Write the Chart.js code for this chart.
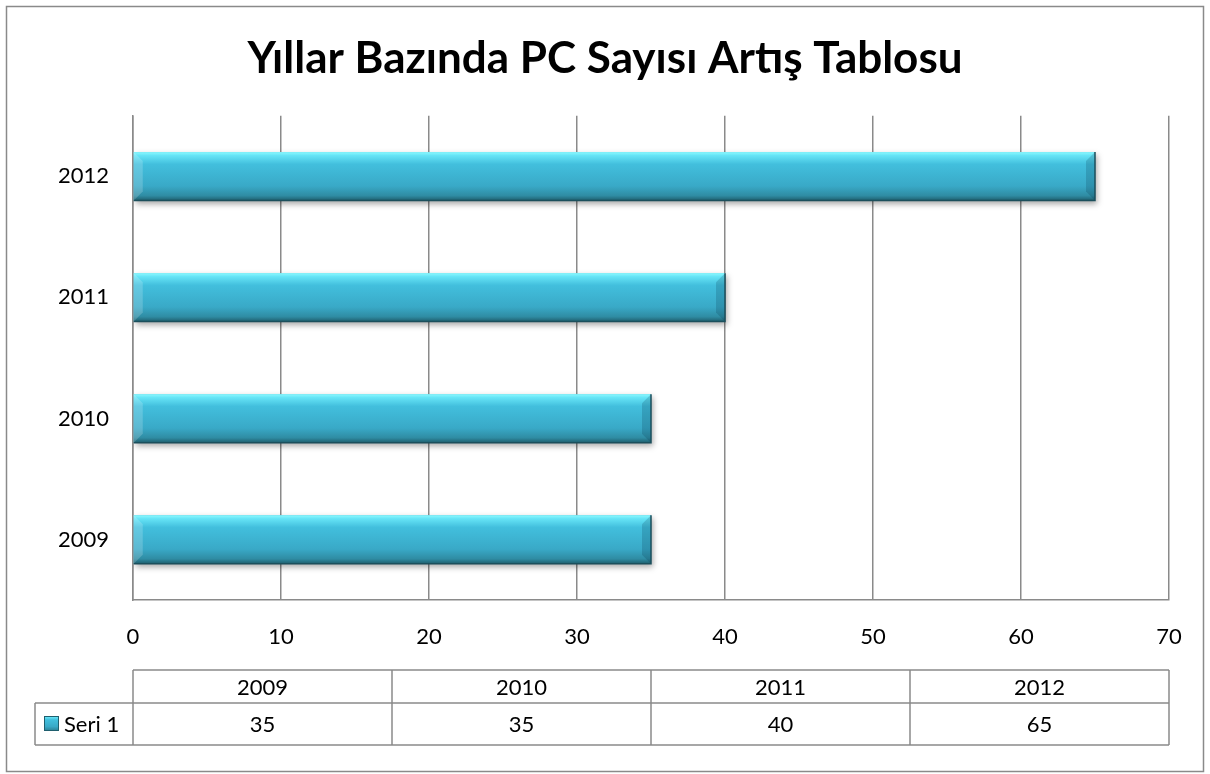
<!DOCTYPE html>
<html>
<head>
<meta charset="utf-8">
<script src="https://cdn.jsdelivr.net/npm/chart.js@4.4.1/dist/chart.umd.min.js"></script>
<style>
  html, body { margin: 0; padding: 0; background: #fff; }
  #wrap { width: 1210px; height: 774px; position: relative; }
</style>
</head>
<body>
<div id="wrap"><canvas id="myChart"></canvas></div>
<script>
// data
var years = ["2009", "2010", "2011", "2012"];
var seri1 = [35, 35, 40, 65];
var seriesName = "Seri 1";
var xTicks = [0, 10, 20, 30, 40, 50, 60, 70];
var chartTitle = "Yıllar Bazında PC Sayısı Artış Tablosu";

var FONT = "Lato, 'Open Sans', sans-serif";
var LINE = "#8a8a8a";

function barGradient(ctx, top, bottom) {
  var g = ctx.createLinearGradient(0, top, 0, bottom);
  g.addColorStop(0, "#8cf9ff");
  g.addColorStop(0.07, "#66e4f6");
  g.addColorStop(0.25, "#42bfdd");
  g.addColorStop(0.7, "#39a9c7");
  g.addColorStop(0.9, "#2f8ca3");
  g.addColorStop(1, "#1f5f6e");
  return g;
}

// outer frame + data table under the axis
var extras = {
  id: "extras",
  beforeDraw: function (chart) {
    var c = chart.ctx;
    c.save();
    c.strokeStyle = LINE;
    c.lineWidth = 1.5;
    c.strokeRect(6.5, 6.5, 1197, 765);
    c.restore();
  },
  afterDraw: function (chart) {
    var c = chart.ctx;
    var x = chart.scales.x;
    var left = x.left, right = x.right;
    var colW = (right - left) / years.length;
    var top = 670, mid = 703, bot = 745, legL = 35;
    c.save();
    c.strokeStyle = LINE;
    c.lineWidth = 1.5;
    c.beginPath();
    c.moveTo(left, top); c.lineTo(right, top);
    c.moveTo(legL, mid); c.lineTo(right, mid);
    c.moveTo(legL, bot); c.lineTo(right, bot);
    c.moveTo(legL, mid); c.lineTo(legL, bot);
    for (var i = 0; i <= years.length; i++) {
      c.moveTo(left + i * colW, top);
      c.lineTo(left + i * colW, bot);
    }
    c.stroke();

    c.fillStyle = "#000";
    c.font = "22px " + FONT;
    c.textAlign = "center";
    c.textBaseline = "middle";
    for (var j = 0; j < years.length; j++) {
      var cx = left + (j + 0.5) * colW;
      c.fillText(years[j], cx, (top + mid) / 2 + 1);
      c.fillText(String(seri1[j]), cx, (mid + bot) / 2 + 1);
    }
    // legend key
    c.fillStyle = barGradient(c, 716, 731);
    c.fillRect(44, 716, 15, 15);
    c.strokeStyle = "#1f5f6e";
    c.lineWidth = 1;
    c.strokeRect(44.5, 716.5, 14, 14);
    c.fillStyle = "#000";
    c.textAlign = "left";
    c.fillText(seriesName, 64, (mid + bot) / 2 + 1);
    c.restore();
  }
};

// bevel look on top of the bars the library drew
var bevel = {
  id: "bevel",
  afterDatasetsDraw: function (chart) {
    var c = chart.ctx;
    var meta = chart.getDatasetMeta(0);
    meta.data.forEach(function (el) {
      var p = el.getProps(["x", "y", "base", "height"], true);
      var t = p.y - p.height / 2, b = p.y + p.height / 2;
      var l = p.base, r = p.x, e = 9;
      c.save();
      c.fillStyle = barGradient(c, t, b);
      c.fillRect(l, t, r - l, b - t);
      // left bevel lighter
      c.fillStyle = "rgba(255,255,255,0.18)";
      c.beginPath();
      c.moveTo(l, t); c.lineTo(l + e, t + e); c.lineTo(l + e, b - e); c.lineTo(l, b);
      c.closePath(); c.fill();
      // right bevel darker
      c.fillStyle = "rgba(0,40,60,0.18)";
      c.beginPath();
      c.moveTo(r, t); c.lineTo(r - e, t + e); c.lineTo(r - e, b - e); c.lineTo(r, b);
      c.closePath(); c.fill();
      c.strokeStyle = "#1b4f5c";
      c.lineWidth = 1.5;
      c.beginPath();
      c.moveTo(r, t); c.lineTo(r, b); c.lineTo(l, b);
      c.stroke();
      c.restore();
    });
  },
  beforeDatasetsDraw: function (chart) {
    var c = chart.ctx;
    c.save();
    c.shadowColor = "rgba(0,0,0,0.35)";
    c.shadowBlur = 6;
    c.shadowOffsetX = 2;
    c.shadowOffsetY = 3;
  },
  afterDatasetDraw: function (chart) {
    chart.ctx.restore();
  }
};

new Chart("myChart", {
  type: "bar",
  data: {
    labels: years,
    datasets: [{
      label: seriesName,
      data: seri1,
      backgroundColor: "#3ab2d0",
      borderWidth: 0,
      categoryPercentage: 1,
      barPercentage: 0.4
    }]
  },
  options: {
    indexAxis: "y",
    responsive: true,
    maintainAspectRatio: false,
    animation: false,
    layout: { padding: 0 },
    plugins: {
      legend: { display: false },
      tooltip: { enabled: false },
      title: {
        display: true,
        text: chartTitle,
        color: "#000",
        font: { family: FONT, size: 44, weight: "bold" },
        padding: { top: 32, bottom: 31 }
      }
    },
    scales: {
      x: {
        min: 0,
        max: 70,
        afterBuildTicks: function (s) { s.ticks = xTicks.map(function (v) { return { value: v }; }); },
        grid: { color: LINE, lineWidth: 1.5, drawTicks: false },
        border: { color: LINE, width: 1.5 },
        ticks: { color: "#000", font: { family: FONT, size: 22 }, padding: 24, maxRotation: 0 },
        afterFit: function (s) { s.height = 174; }
      },
      y: {
        reverse: true,
        grid: { display: false, drawTicks: false },
        border: { color: LINE, width: 1.5 },
        ticks: { color: "#000", font: { family: FONT, size: 22 }, padding: 24 },
        afterFit: function (s) { s.width = 133; }
      },
      // empty right-hand axis only to hold the right margin
      yRight: {
        position: "right",
        grid: { display: false, drawTicks: false },
        border: { display: false },
        ticks: { display: false },
        afterFit: function (s) { s.width = 41; }
      }
    }
  },
  plugins: [extras, bevel]
});
</script>
</body>
</html>
